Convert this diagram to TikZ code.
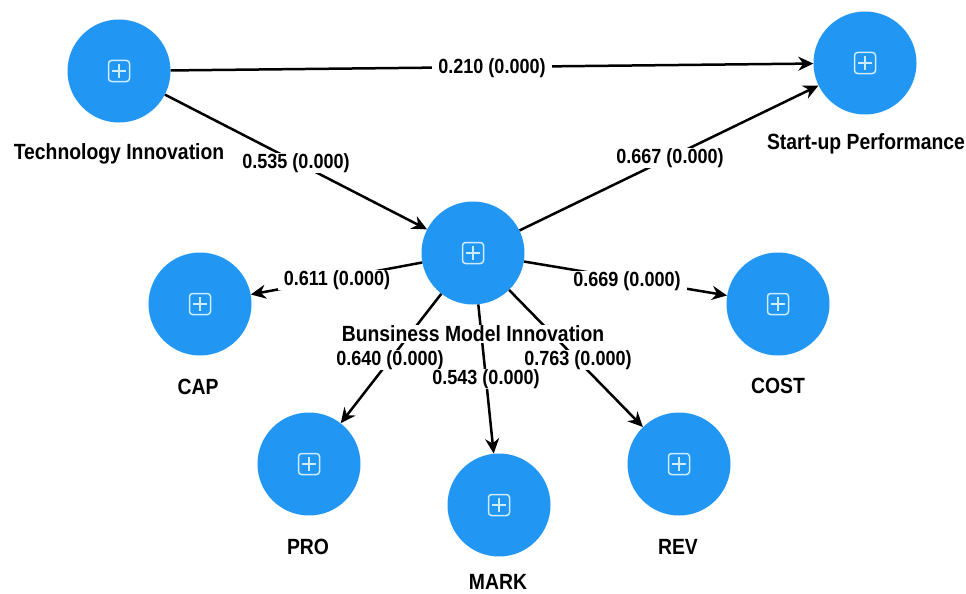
\documentclass[tikz,border=0pt]{standalone}
\usepackage{fontspec}
\setmainfont{Liberation Sans}[FakeStretch=0.88]
\usetikzlibrary{arrows.meta}
\definecolor{nodeblue}{RGB}{33,150,243}
\definecolor{iconblue}{RGB}{205,236,255}
\begin{document}
\begin{tikzpicture}[x=1pt,y=-1pt,
  lv/.style={circle,fill=nodeblue,minimum size=103pt,inner sep=0pt},
  nlab/.style={font=\fontsize{22}{24}\selectfont\bfseries,fill=white,inner xsep=4pt,inner ysep=1pt},
  elab/.style={font=\fontsize{20.5}{22}\selectfont\bfseries,fill=white,inner xsep=6pt,inner ysep=0.5pt},
  conn/.style={line width=2.5pt,-{Stealth[length=15pt,width=14pt]}},
  plusicon/.pic={
    \draw[iconblue,line width=1.5pt,rounded corners=3pt] (-10.5,-10.5) rectangle (10.5,10.5);
    \draw[iconblue,line width=1.5pt] (-7,0) -- (7,0) (0,-7) -- (0,7);
  }]
\useasboundingbox (0,0) rectangle (966,594);
\fill[white] (0,0) rectangle (966,594);
% latent variables
\node[lv] (ti)   at (119,71)  {};
\node[lv] (sp)   at (865,63)  {};
\node[lv] (bmi)  at (473,253) {};
\node[lv] (cap)  at (200,304) {};
\node[lv] (cost) at (778,304) {};
\node[lv] (pro)  at (309,464) {};
\node[lv] (mark) at (499,505) {};
\node[lv] (rev)  at (679,464) {};
\foreach \n in {ti,sp,bmi,cap,cost,pro,mark,rev}{\pic at (\n) {plusicon};}
% connectors
\draw[conn] (ti) -- (sp);
\draw[conn] (ti) -- (bmi);
\draw[conn] (bmi) -- (sp);
\draw[conn] (bmi) -- (cap);
\draw[conn] (bmi) -- (cost);
\draw[conn] (bmi) -- (pro);
\draw[conn] (bmi) -- (mark);
\draw[conn] (bmi) -- (rev);
% edge labels
\node[elab] (l1) at (492,68)  {0.210 (0.000)};
\node[elab] (l2) at (296,163) {0.535 (0.000)};
\node[elab] (l3) at (670,158) {0.667 (0.000)};
\node[elab] (l4) at (337,280) {0.611 (0.000)};
\node[elab] (l5) at (627,281) {0.669 (0.000)};
\node[elab] (l6) at (390,360) {0.640 (0.000)};
\node[elab] (l8) at (578,360) {0.763 (0.000)};
\node[elab] (l7) at (486,379) {0.543 (0.000)};
% node labels
\node[nlab] (tit)   at (119,154) {Technology Innovation};
\node[nlab] (spt)   at (866,144) {Start-up Performance};
\node[nlab] (bmit)  at (473,334) {Bunsiness Model Innovation};
\node[nlab] (capt)  at (198,387) {CAP};
\node[nlab] (costt) at (778,386) {COST};
\node[nlab] (prot)  at (308,547) {PRO};
\node[nlab] (markt) at (498,582) {MARK};
\node[nlab] (revt)  at (678,547) {REV};
\end{tikzpicture}
\end{document}
